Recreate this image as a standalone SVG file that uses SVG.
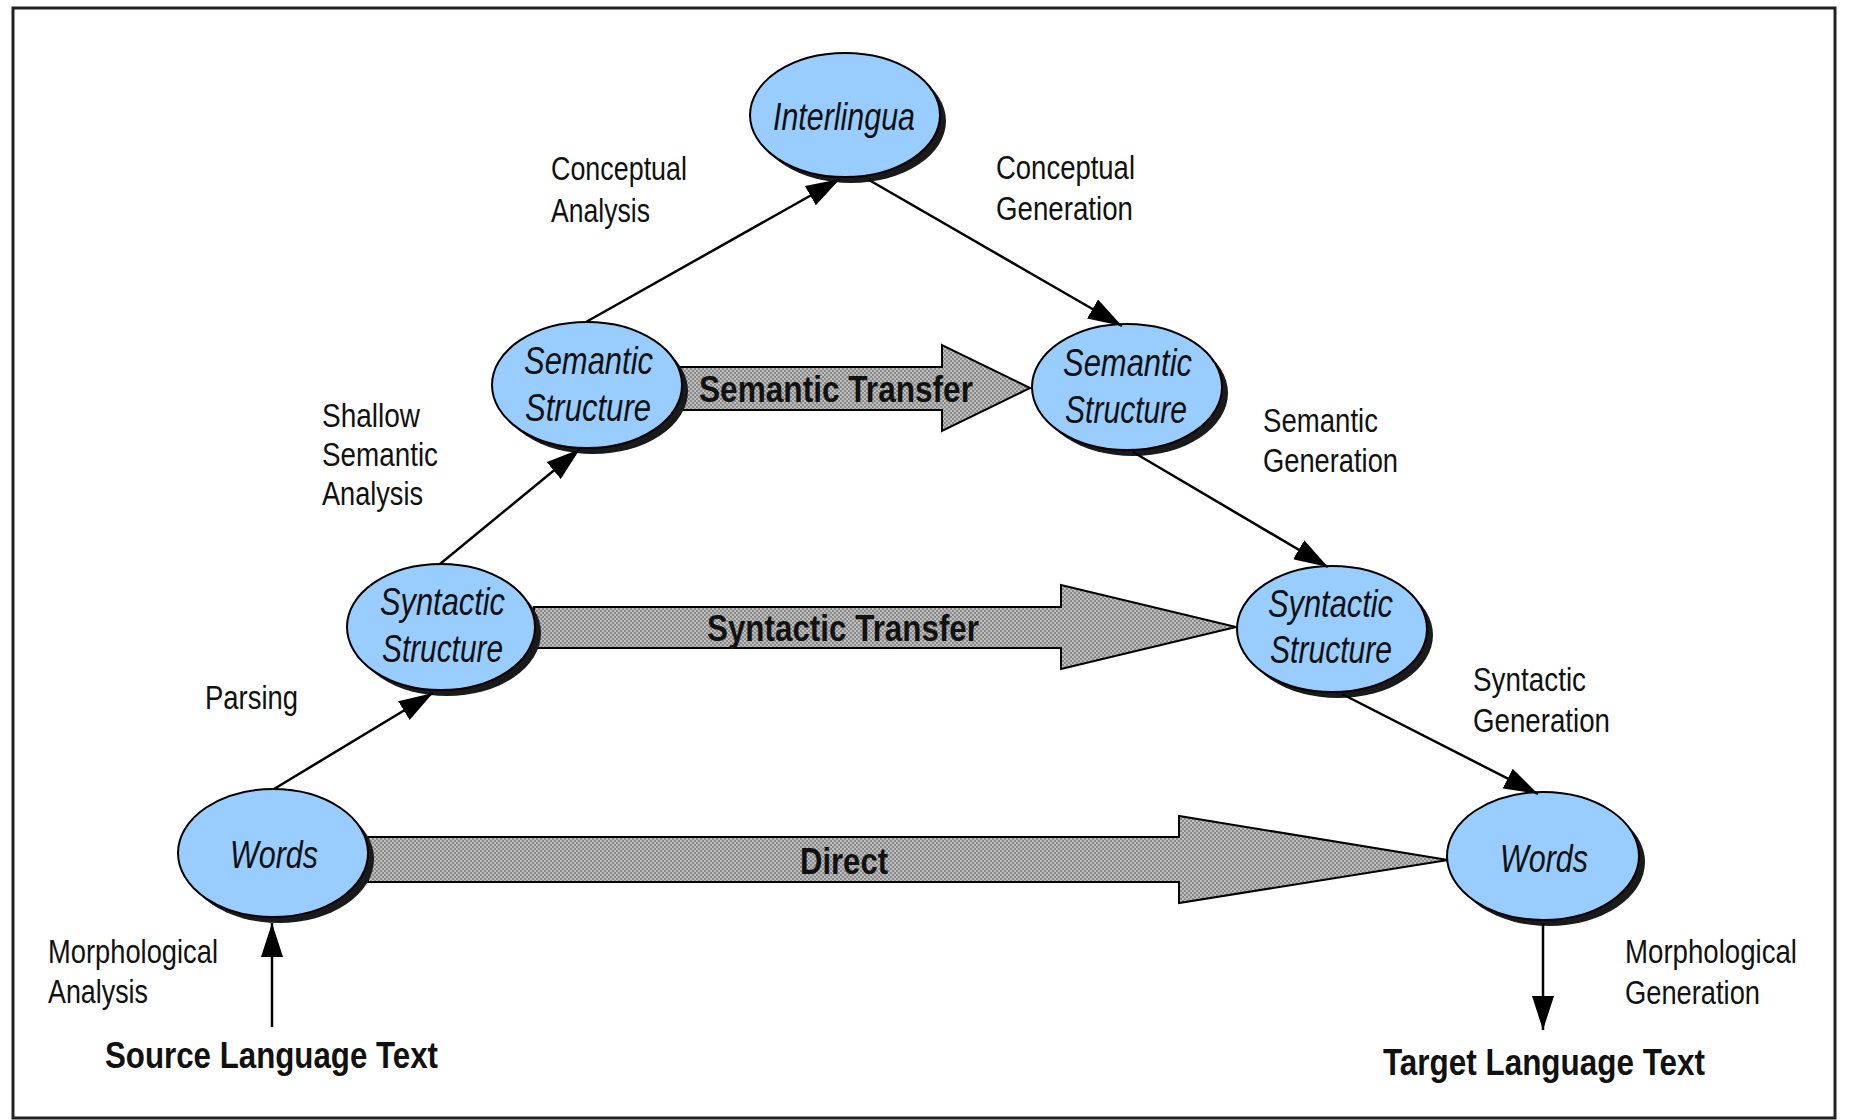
<svg xmlns="http://www.w3.org/2000/svg" width="1854" height="1120" viewBox="0 0 1854 1120">
<style>
.t{font-family:"Liberation Sans",Arial,sans-serif;fill:#111}
.lbl{font-size:33px}
.nd{font-size:39px;font-style:italic}
.bd{font-size:37px;font-weight:bold}
.ell{fill:#99ccff;stroke:#000;stroke-width:2}
.shd{fill:#1a1a1a}
.big{fill:url(#dots);stroke:#000;stroke-width:2}
.con{stroke:#000;stroke-width:2.5;fill:none;marker-end:url(#ah)}
</style>
<defs>
<pattern id="dots" width="4" height="4" patternUnits="userSpaceOnUse">
<rect width="4" height="4" fill="#8a8a8a"/>
<circle cx="1" cy="1" r="0.9" fill="#d6d6d6"/>
<circle cx="3" cy="3" r="0.9" fill="#d6d6d6"/>
</pattern>
<marker id="ah" markerUnits="userSpaceOnUse" markerWidth="36" markerHeight="22" refX="34" refY="11" orient="auto">
<path d="M0,0 L34,11 L0,22 Z" fill="#000"/>
</marker>
</defs>
<rect x="0" y="0" width="1854" height="1120" fill="#fff"/>
<rect x="13" y="8" width="1822" height="1110" fill="none" stroke="#222" stroke-width="3"/>

<g id="transfers">
<g id="direct">
<polygon class="big" points="368,837 1179,837 1179,816 1448,860 1179,903 1179,882 368,882"/>
<text class="t bd" x="800" y="874" textLength="88" lengthAdjust="spacingAndGlyphs">Direct</text>
</g>
<g id="syntactic-transfer">
<polygon class="big" points="534,607 1061,607 1061,585 1236,627 1061,669 1061,648 534,648"/>
<text class="t bd" x="707" y="641" textLength="272" lengthAdjust="spacingAndGlyphs">Syntactic Transfer</text>
</g>
<g id="semantic-transfer">
<polygon class="big" points="678,367 942,367 942,345 1030,388 942,431 942,410 678,410"/>
<text class="t bd" x="699" y="402" textLength="274" lengthAdjust="spacingAndGlyphs">Semantic Transfer</text>
</g>
</g>

<g id="interlingua">
<ellipse class="shd" cx="851" cy="121" rx="95" ry="62"/>
<ellipse class="ell" cx="845" cy="115" rx="95" ry="62"/>
<text class="t nd" x="773" y="130" textLength="142" lengthAdjust="spacingAndGlyphs">Interlingua</text>
</g>
<g id="semantic-left">
<ellipse class="shd" cx="593" cy="391" rx="95" ry="63"/>
<ellipse class="ell" cx="587" cy="385" rx="95" ry="63"/>
<text class="t nd" x="524" y="374" textLength="129" lengthAdjust="spacingAndGlyphs">Semantic</text>
<text class="t nd" x="525" y="421" textLength="126" lengthAdjust="spacingAndGlyphs">Structure</text>
</g>
<g id="semantic-right">
<ellipse class="shd" cx="1133" cy="393" rx="95" ry="63"/>
<ellipse class="ell" cx="1127" cy="387" rx="95" ry="63"/>
<text class="t nd" x="1063" y="376" textLength="129" lengthAdjust="spacingAndGlyphs">Semantic</text>
<text class="t nd" x="1065" y="423" textLength="122" lengthAdjust="spacingAndGlyphs">Structure</text>
</g>
<g id="syntactic-left">
<ellipse class="shd" cx="447" cy="633" rx="94" ry="63"/>
<ellipse class="ell" cx="441" cy="627" rx="94" ry="63"/>
<text class="t nd" x="380" y="615" textLength="125" lengthAdjust="spacingAndGlyphs">Syntactic</text>
<text class="t nd" x="382" y="662" textLength="121" lengthAdjust="spacingAndGlyphs">Structure</text>
</g>
<g id="syntactic-right">
<ellipse class="shd" cx="1338" cy="635" rx="95" ry="63"/>
<ellipse class="ell" cx="1332" cy="629" rx="95" ry="63"/>
<text class="t nd" x="1268" y="617" textLength="125" lengthAdjust="spacingAndGlyphs">Syntactic</text>
<text class="t nd" x="1270" y="663" textLength="122" lengthAdjust="spacingAndGlyphs">Structure</text>
</g>
<g id="words-left">
<ellipse class="shd" cx="279" cy="859" rx="95" ry="64"/>
<ellipse class="ell" cx="273" cy="853" rx="95" ry="64"/>
<text class="t nd" x="230" y="868" textLength="88" lengthAdjust="spacingAndGlyphs">Words</text>
</g>
<g id="words-right">
<ellipse class="shd" cx="1549" cy="862" rx="96" ry="64"/>
<ellipse class="ell" cx="1543" cy="856" rx="96" ry="64"/>
<text class="t nd" x="1500" y="872" textLength="88" lengthAdjust="spacingAndGlyphs">Words</text>
</g>

<g id="connectors">
<line class="con" x1="274" y1="789" x2="433" y2="693"/>
<line class="con" x1="440" y1="564" x2="580" y2="449"/>
<line class="con" x1="586" y1="322" x2="840" y2="179"/>
<line class="con" x1="869" y1="180" x2="1122" y2="326"/>
<line class="con" x1="1133" y1="452" x2="1328" y2="567"/>
<line class="con" x1="1342" y1="694" x2="1538" y2="794"/>
<line class="con" x1="272" y1="1027" x2="272" y2="923"/>
<line class="con" x1="1543" y1="923" x2="1543" y2="1030"/>
</g>

<g id="labels">
<text class="t lbl" x="551" y="180" textLength="136" lengthAdjust="spacingAndGlyphs">Conceptual</text>
<text class="t lbl" x="551" y="222" textLength="99" lengthAdjust="spacingAndGlyphs">Analysis</text>
<text class="t lbl" x="996" y="179" textLength="139" lengthAdjust="spacingAndGlyphs">Conceptual</text>
<text class="t lbl" x="996" y="220" textLength="137" lengthAdjust="spacingAndGlyphs">Generation</text>
<text class="t lbl" x="322" y="427" textLength="98" lengthAdjust="spacingAndGlyphs">Shallow</text>
<text class="t lbl" x="322" y="466" textLength="116" lengthAdjust="spacingAndGlyphs">Semantic</text>
<text class="t lbl" x="322" y="505" textLength="101" lengthAdjust="spacingAndGlyphs">Analysis</text>
<text class="t lbl" x="1263" y="432" textLength="115" lengthAdjust="spacingAndGlyphs">Semantic</text>
<text class="t lbl" x="1263" y="472" textLength="135" lengthAdjust="spacingAndGlyphs">Generation</text>
<text class="t lbl" x="205" y="709" textLength="93" lengthAdjust="spacingAndGlyphs">Parsing</text>
<text class="t lbl" x="1473" y="691" textLength="113" lengthAdjust="spacingAndGlyphs">Syntactic</text>
<text class="t lbl" x="1473" y="732" textLength="137" lengthAdjust="spacingAndGlyphs">Generation</text>
<text class="t lbl" x="48" y="963" textLength="170" lengthAdjust="spacingAndGlyphs">Morphological</text>
<text class="t lbl" x="48" y="1003" textLength="100" lengthAdjust="spacingAndGlyphs">Analysis</text>
<text class="t lbl" x="1625" y="963" textLength="172" lengthAdjust="spacingAndGlyphs">Morphological</text>
<text class="t lbl" x="1625" y="1004" textLength="135" lengthAdjust="spacingAndGlyphs">Generation</text>
<text class="t bd" x="105" y="1068" textLength="333" lengthAdjust="spacingAndGlyphs">Source Language Text</text>
<text class="t bd" x="1383" y="1075" textLength="322" lengthAdjust="spacingAndGlyphs">Target Language Text</text>
</g>
</svg>
